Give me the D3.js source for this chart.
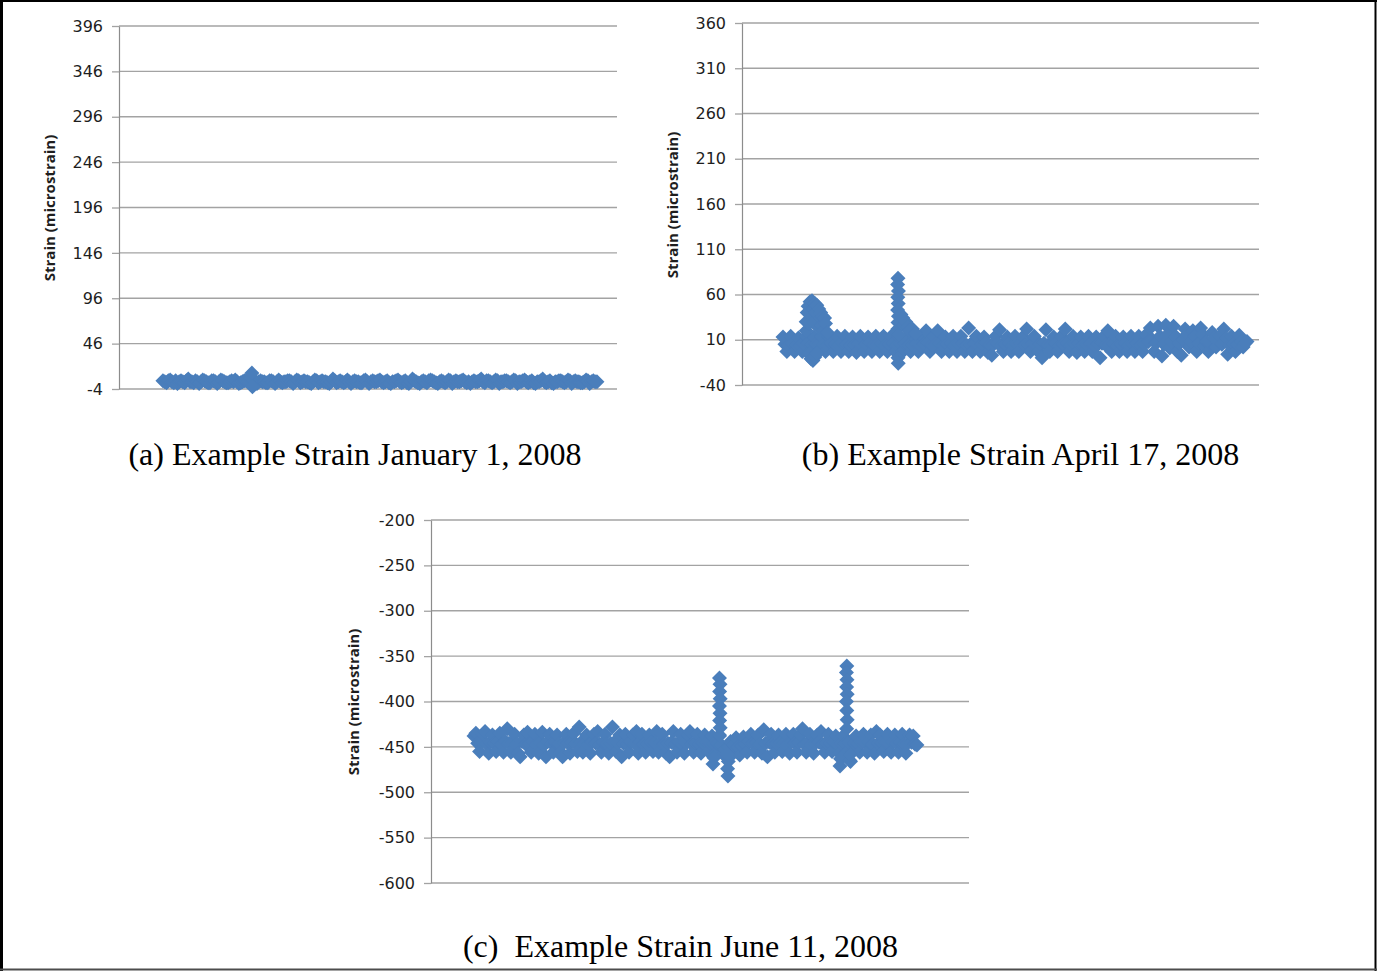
<!DOCTYPE html>
<html>
<head>
<meta charset="utf-8">
<script src="https://cdn.jsdelivr.net/npm/d3@7"></script>
<style>
  html, body { margin: 0; padding: 0; background: #fff; }
  svg { display: block; }
</style>
</head>
<body>
<svg id="fig" width="1377" height="971"></svg>
<script>
// Strain records, sampled every 6 minutes over 24 hours (microstrain)
const sampleStepHours = 0.1;

const strainJan1 = [
  5, 4, 3, 5, 6, 4, 3, 5, 2, 4,   5, 4, 3, 5, 7, 4, 4, 3, 5, 4,
  2, 4, 6, 5, 4, 3, 3, 5, 5, 4,   2, 4, 6, 5, 4, 3, 3, 4, 5, 4,
  6, 4, 2, 3, 4, 5, 5, 4, 3, 5,   7, 4, 2, 4, 5, 4, 4, 3, 3, 5,
  5, 4, 2, 4, 6, 4, 3, 4, 4, 5,   5, 4, 2, 4, 6, 5, 3, 4, 5, 4,
  4, 3, 2, 4, 6, 5, 3, 4, 5, 4,   4, 3, 2, 4, 7, 5, 3, 4, 5, 4,
  3, 4, 6, 4, 2, 4, 5, 4, 4, 3,   3, 5, 6, 4, 2, 4, 5, 4, 4, 5,
  6, 4, 3, 4, 5, 3, 2, 4, 4, 5,   6, 4, 3, 4, 5, 3, 2, 4, 7, 5,
  4, 3, 2, 4, 5, 4, 3, 5, 6, 5,   4, 3, 2, 4, 5, 4, 3, 4, 6, 5,
  2, 4, 5, 4, 4, 5, 6, 4, 3, 4,   2, 4, 5, 4, 4, 5, 7, 4, 3, 5,
  5, 4, 3, 4, 6, 5, 2, 4, 4, 5,   5, 4, 3, 4, 6, 5, 2, 4, 4, 5,
  6, 4, 3, 4, 5, 3, 2, 4, 4, 5,   7, 4, 3, 4, 5, 3, 2, 4, 4, 5,
  5, 4, 3, 4, 6, 5, 2, 4, 5, 4,   4, 3, 3, 4, 6, 5, 2, 4, 5, 4,
  4
];

const strainApr17 = [
  13, 5, -3, 4, 14, 6, -3, 5, 12, 4,
  -3, 5, 14, 6, -3, 4, 13, 5, -4, 6,
  14, 5, -3, 4, 13, 6, -3, 5, 14, 4,
  -3, 6, 14, 5, -3, 4, 13, 5, -4, 6,
  14, 4, -3, 5, 13, 6, -3, 4, 14, 5,
  -3, 6, 14, 4, -3, 5, 14, 6, -3, 4,
  13, 5, -3, 6, 14, 4, -3, 5, 13, 6,
  -3, 4, 14, 5, 20, 6, -3, 4, 14, 5,
  20, 6, -3, 4, 13, 5, -3, 6, 14, 4,
  -3, 5, 14, 6, -3, 4, 23, 5, -3, 6,
  14, 4, -3, 5, 13, 6, -4, 4, -7, 5,
  14, 6, 21, 4, -3, 5, 13, 6, -3, 4,
  14, 5, -3, 6, 13, 4, 22, 5, -3, 6,
  14, 4, -3, 5, -10, 6, 21, 4, -3, 5,
  13, 6, -3, 4, 14, 5, 22, 6, -3, 4,
  14, 5, -4, 6, 13, 4, -3, 5, 14, 6,
  -3, 4, 13, 5, -10, 6, 14, 4, 20, 5,
  -3, 6, 14, 4, -3, 5, 13, 6, -3, 4,
  14, 5, -3, 6, 14, 4, -3, 5, 16, 8,
  23, 10, -3, 6, 25, 14, -8, 5, 26, 16,
  1, 8, 25, 14, -3, 6, -7, 10, 22, 16,
  2, 8, 20, 14, -3, 6, 23, 16, 4, 8,
  -3, 6, 18, 12, 2, 8, 14, 5, 22, 12,
  -6, 4, 14, 6, -3, 5, 15, 8, 2, 6,
  8
];

const strainJun11 = [
  -438, -435, -446, -455, -444, -436, -433, -447, -457, -445,
  -437, -446, -455, -445, -435, -447, -456, -444, -430, -446,
  -456, -445, -436, -447, -457, -461, -444, -437, -447, -434,
  -446, -456, -444, -436, -447, -457, -445, -434, -448, -461,
  -444, -436, -446, -456, -445, -437, -447, -456, -461, -445,
  -436, -446, -457, -445, -435, -446, -455, -428, -445, -456,
  -446, -437, -447, -457, -445, -436, -446, -433, -447, -456,
  -445, -436, -447, -457, -446, -428, -445, -455, -446, -437,
  -461, -446, -436, -447, -456, -445, -437, -446, -433, -457,
  -445, -436, -447, -456, -446, -437, -445, -455, -446, -433,
  -456, -445, -436, -447, -457, -446, -461, -445, -433, -447,
  -456, -445, -436, -447, -457, -446, -437, -433, -447, -456,
  -445, -436, -447, -457, -446, -437, -445, -455, -446, -438,
  -447, -457, -446, -438, -448, -458, -452, -460, -450, -444,
  -458, -448, -440, -450, -459, -449, -439, -447, -456, -445,
  -436, -446, -456, -445, -437, -447, -457, -431, -446, -461,
  -445, -436, -447, -456, -446, -437, -445, -455, -446, -436,
  -447, -457, -445, -436, -446, -456, -445, -437, -430, -447,
  -456, -445, -436, -447, -457, -446, -437, -445, -433, -447,
  -456, -445, -436, -446, -455, -445, -438, -447, -457, -446,
  -438, -447, -456, -445, -466, -455, -446, -438, -447, -456,
  -445, -436, -446, -456, -445, -437, -447, -457, -433, -446,
  -437, -446, -455, -445, -436, -447, -456, -445, -437, -446,
  -456, -445, -436, -447, -457, -446, -437, -445, -438, -447,
  -448
];

// Short high-rate bursts recorded during load events: [hour, microstrain]
const burstJan1 = [[4.88, 8], [4.92, 13.5], [4.95, -1.5]];

const burstApr17 = [
  [1.2, 20], [1.2, 30], [1.25, 40], [1.3, 47], [1.35, 28], [1.4, 52], [1.45, 38],
  [1.5, 53], [1.55, 44], [1.6, 30], [1.65, 50], [1.7, 40], [1.75, 48], [1.8, 24],
  [1.85, 44], [1.9, 34], [1.95, 40], [2.0, 26], [2.05, 36], [2.1, 20], [2.15, 34],
  [2.2, 28], [2.3, 18],
  [1.35, -6], [1.45, -11], [1.55, -13], [1.65, -9], [1.75, -5],
  [5.95, 78], [5.93, 71], [5.97, 64], [5.94, 57], [5.96, 50], [5.93, 43], [5.97, 36],
  [5.95, 29], [5.94, 22], [5.95, -10], [5.96, -16],
  [6.0, 15], [6.05, 30], [6.1, 38], [6.2, 34], [6.25, 26], [6.35, 30], [6.45, 24],
  [6.55, 20], [6.7, 22], [6.85, 17]
];

const burstJun11 = [
  [13.30, -374], [13.33, -381], [13.31, -389], [13.34, -397], [13.30, -405],
  [13.33, -413], [13.31, -421], [13.34, -429], [13.30, -437],
  [12.95, -469], [13.00, -462],
  [13.76, -482], [13.74, -474], [13.78, -466], [13.72, -458],
  [20.20, -361], [20.18, -368], [20.21, -376], [20.19, -384], [20.22, -392],
  [20.18, -400], [20.20, -410], [20.22, -420], [20.19, -430],
  [19.83, -471], [19.86, -463],
  [20.37, -465], [20.40, -458]
];

// Y-axis tick values
const ticksJan1 = [-4, 46, 96, 146, 196, 246, 296, 346, 396];
const ticksApr17 = [-40, 10, 60, 110, 160, 210, 260, 310, 360];
const ticksJun11 = [-600, -550, -500, -450, -400, -350, -300, -250, -200];

const captions = [
  "(a) Example Strain January 1, 2008",
  "(b) Example Strain April 17, 2008",
  "(c)  Example Strain June 11, 2008"
];
const yTitle = "Strain (microstrain)";

const panels = [
  { values: strainJan1, burst: burstJan1, ticks: ticksJan1, caption: captions[0],
    left: 119, right: 617, top: 26, bottom: 389, xDomain: [-2.43, 25.11],
    titleX: 50, titleY: 208, capX: 355, capY: 465 },
  { values: strainApr17, burst: burstApr17, ticks: ticksApr17, caption: captions[1],
    left: 742, right: 1259, top: 23, bottom: 385, xDomain: [-2.12, 24.62],
    titleX: 673, titleY: 205, capX: 1020.5, capY: 465 },
  { values: strainJun11, burst: burstJun11, ticks: ticksJun11, caption: captions[2],
    left: 431, right: 969, top: 520, bottom: 883, xDomain: [-2.33, 26.82],
    titleX: 354, titleY: 702, capX: 680.5, capY: 957 }
];

const markerColor = "#4a7ebb";
const markerR = 7.5;
// rotated-square marker
const markerPath = `M0,${-markerR}L${markerR},0L0,${markerR}L${-markerR},0Z`;

const svg = d3.select("#fig");
svg.append("rect").attr("width", 1377).attr("height", 971).attr("fill", "#fff");

panels.forEach(p => {
  const y = d3.scaleLinear().domain(d3.extent(p.ticks)).range([p.bottom, p.top]);
  const x = d3.scaleLinear().domain(p.xDomain).range([p.left, p.right]);

  const g = svg.append("g");

  // horizontal gridlines
  g.append("g").selectAll("line").data(p.ticks).join("line")
    .attr("x1", p.left).attr("x2", p.right)
    .attr("y1", d => y(d)).attr("y2", d => y(d))
    .attr("stroke", "#a3a3a3").attr("stroke-width", 1.3);

  // y axis
  const axis = d3.axisLeft(y).tickValues(p.ticks).tickSizeInner(7).tickSizeOuter(0)
    .tickPadding(9).tickFormat(d => String(d));
  const ag = g.append("g").attr("transform", `translate(${p.left},0)`).call(axis);
  ag.select(".domain").attr("stroke", "#8c8c8c").attr("stroke-width", 1.2);
  ag.selectAll(".tick line").attr("stroke", "#a3a3a3").attr("stroke-width", 1.3);
  ag.selectAll(".tick text")
    .attr("font-family", "DejaVu Sans, sans-serif")
    .attr("font-size", 16).attr("fill", "#1e1e1e");

  // axis title
  g.append("text")
    .attr("transform", `translate(${p.titleX},${p.titleY}) rotate(-90)`)
    .attr("text-anchor", "middle").attr("dy", "0.35em")
    .attr("font-family", "Open Sans, sans-serif").attr("font-weight", 700)
    .attr("font-size", 15).attr("fill", "#1e1e1e")
    .text(yTitle);

  // markers: regular samples then bursts
  const pts = p.values.map((v, i) => [i * sampleStepHours, v]).concat(p.burst);
  g.append("g").selectAll("path").data(pts).join("path")
    .attr("d", markerPath)
    .attr("transform", d => `translate(${x(d[0])},${y(d[1])})`)
    .attr("fill", markerColor);

  // caption
  g.append("text")
    .attr("x", p.capX).attr("y", p.capY)
    .attr("text-anchor", "middle")
    .attr("font-family", "Liberation Serif, Times New Roman, serif")
    .attr("font-size", 32).attr("fill", "#000")
    .style("white-space", "pre")
    .text(p.caption);
});

// figure frame
svg.append("line").attr("x1", 1.5).attr("x2", 1.5).attr("y1", 0).attr("y2", 971)
  .attr("stroke", "#000").attr("stroke-width", 3);
svg.append("line").attr("x1", 0).attr("x2", 1377).attr("y1", 1).attr("y2", 1)
  .attr("stroke", "#000").attr("stroke-width", 2);
svg.append("line").attr("x1", 1375.5).attr("x2", 1375.5).attr("y1", 0).attr("y2", 971)
  .attr("stroke", "#000").attr("stroke-width", 2);
svg.append("line").attr("x1", 0).attr("x2", 1377).attr("y1", 969.5).attr("y2", 969.5)
  .attr("stroke", "#4d4d4d").attr("stroke-width", 2);
</script>
</body>
</html>
